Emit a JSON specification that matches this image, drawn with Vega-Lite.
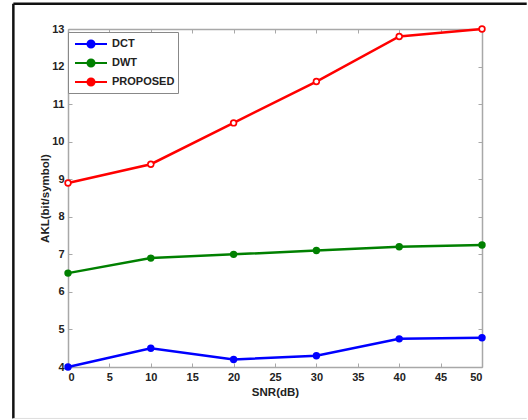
{
  "$schema": "https://vega.github.io/schema/vega-lite/v6.json",
  "width": 414,
  "height": 338,
  "autosize": {"type": "none"},
  "padding": {"left": 68, "top": 29, "right": 46, "bottom": 53},
  "background": "white",
  "config": {
    "view": {"stroke": null},
    "font": "Liberation Sans",
    "axis": {
      "domainColor": "#a8a8a8",
      "domainWidth": 1.5,
      "tickColor": "#a8a8a8",
      "tickWidth": 1,
      "tickSize": -4,
      "grid": false,
      "labelFont": "Liberation Sans",
      "labelFontWeight": "bold",
      "labelFontSize": 11,
      "labelColor": "#222222",
      "titleFont": "Liberation Sans",
      "titleFontWeight": "bold",
      "titleFontSize": 11.5,
      "titleColor": "#222222"
    }
  },
  "data": {
    "values": [
      {"snr": 0, "akl": 4.0, "method": "DCT"},
      {"snr": 10, "akl": 4.5, "method": "DCT"},
      {"snr": 20, "akl": 4.2, "method": "DCT"},
      {"snr": 30, "akl": 4.3, "method": "DCT"},
      {"snr": 40, "akl": 4.75, "method": "DCT"},
      {"snr": 50, "akl": 4.78, "method": "DCT"},
      {"snr": 0, "akl": 6.5, "method": "DWT"},
      {"snr": 10, "akl": 6.9, "method": "DWT"},
      {"snr": 20, "akl": 7.0, "method": "DWT"},
      {"snr": 30, "akl": 7.1, "method": "DWT"},
      {"snr": 40, "akl": 7.2, "method": "DWT"},
      {"snr": 50, "akl": 7.25, "method": "DWT"},
      {"snr": 0, "akl": 8.9, "method": "PROPOSED"},
      {"snr": 10, "akl": 9.4, "method": "PROPOSED"},
      {"snr": 20, "akl": 10.5, "method": "PROPOSED"},
      {"snr": 30, "akl": 11.6, "method": "PROPOSED"},
      {"snr": 40, "akl": 12.8, "method": "PROPOSED"},
      {"snr": 50, "akl": 13.0, "method": "PROPOSED"}
    ]
  },
  "resolve": {"axis": {"x": "independent", "y": "independent"}},
  "layer": [
    {
      "data": {"values": [{}]},
      "mark": {"type": "rule", "color": "#111111", "strokeWidth": 2.5},
      "encoding": {
        "x": {"datum": -6.6, "type": "quantitative", "scale": {"domain": [0, 50], "nice": false}, "axis": null},
        "x2": {"datum": 55.4},
        "y": {"datum": 13.67, "type": "quantitative", "scale": {"domain": [4, 13], "nice": false}, "axis": null}
      }
    },
    {
      "data": {"values": [{}]},
      "mark": {"type": "rule", "color": "#111111", "strokeWidth": 2.5},
      "encoding": {
        "x": {"datum": -6.6, "type": "quantitative", "axis": null},
        "y": {"datum": 2.63, "type": "quantitative", "axis": null},
        "y2": {"datum": 13.67}
      }
    },
    {
      "data": {"values": [{}]},
      "mark": {"type": "rule", "color": "#dddddd", "strokeWidth": 1},
      "encoding": {
        "x": {"datum": -6.6, "type": "quantitative", "axis": null},
        "x2": {"datum": 55.4},
        "y": {"datum": 2.63, "type": "quantitative", "axis": null}
      }
    },
    {
      "mark": {"type": "line", "strokeWidth": 2.5, "opacity": 0},
      "encoding": {
        "x": {"field": "snr", "type": "quantitative", "axis": {"orient": "top", "labels": false, "title": null, "values": [0, 5, 10, 15, 20, 25, 30, 35, 40, 45, 50]}},
        "y": {"field": "akl", "type": "quantitative", "axis": {"orient": "right", "labels": false, "title": null, "values": [4, 5, 6, 7, 8, 9, 10, 11, 12, 13]}},
        "detail": {"field": "method"}
      }
    },
    {
      "mark": {"type": "line", "strokeWidth": 2.5},
      "encoding": {
        "x": {"field": "snr", "type": "quantitative", "axis": {"orient": "bottom", "title": "SNR(dB)", "values": [0, 5, 10, 15, 20, 25, 30, 35, 40, 45, 50], "labelPadding": 8, "titlePadding": 4}},
        "y": {"field": "akl", "type": "quantitative", "axis": {"orient": "left", "title": "AKL(bit/symbol)", "values": [4, 5, 6, 7, 8, 9, 10, 11, 12, 13], "labelPadding": 8, "titlePadding": 1}},
        "color": {
          "field": "method",
          "type": "nominal",
          "scale": {"domain": ["DCT", "DWT", "PROPOSED"], "range": ["#0000ff", "#008000", "#ff0000"]},
          "legend": {
            "title": null,
            "orient": "none",
            "legendX": 0,
            "legendY": 3,
            "direction": "vertical",
            "strokeColor": "#888888",
            "fillColor": "white",
            "padding": 3,
            "rowPadding": 2,
            "symbolType": "M-2,0L2,0M-0.44,0A0.44,0.44,0,1,1,0.44,0A0.44,0.44,0,1,1,-0.44,0Z",
            "symbolSize": 256,
            "symbolOffset": 11,
            "symbolStrokeWidth": 2,
            "labelFont": "Liberation Sans",
            "labelFontWeight": "bold",
            "labelFontSize": 11,
            "labelColor": "#222222",
            "labelOffset": 12,
            "encode": {
              "symbols": {
                "update": {
                  "fill": {"signal": "datum.value === 'PROPOSED' ? 'white' : scale('color', datum.value)"},
                  "stroke": {"signal": "scale('color', datum.value)"}
                }
              }
            }
          }
        }
      }
    },
    {
      "mark": {"type": "point", "filled": true, "size": 55, "opacity": 1},
      "encoding": {
        "x": {"field": "snr", "type": "quantitative", "axis": null},
        "y": {"field": "akl", "type": "quantitative", "axis": null},
        "color": {"field": "method", "type": "nominal"}
      }
    },
    {
      "transform": [{"filter": "datum.method === 'PROPOSED'"}],
      "mark": {"type": "point", "filled": true, "size": 16, "color": "white", "opacity": 1},
      "encoding": {
        "x": {"field": "snr", "type": "quantitative", "axis": null},
        "y": {"field": "akl", "type": "quantitative", "axis": null}
      }
    }
  ]
}
